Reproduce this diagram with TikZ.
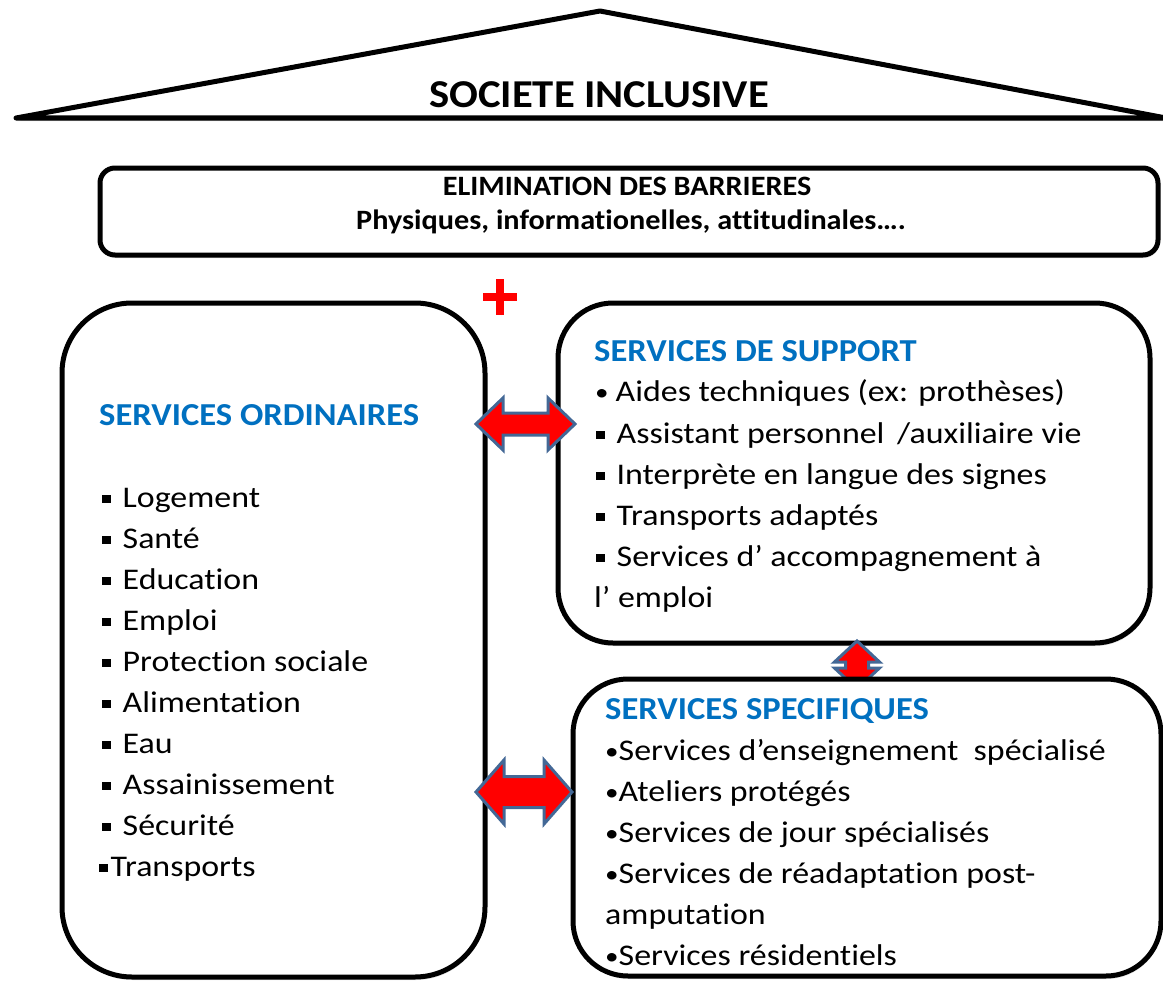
\documentclass[tikz,border=0pt]{standalone}
\usepackage{fontspec}
\setmainfont{Carlito}[FakeStretch=1.08, Ligatures=CommonOff]
\newfontfamily\bodyfont{Carlito}[FakeStretch=1.13, Ligatures=CommonOff]
\usetikzlibrary{fit,shadows,calc}
\definecolor{hblue}{RGB}{0,112,192}
\definecolor{arrowedge}{RGB}{67,104,150}
\newcommand{\sqbul}{\raisebox{4pt}{\rule{8.5pt}{8.5pt}}}
\newcommand{\dotbul}{{\fontsize{24}{24}\selectfont\raisebox{1pt}{•}}}
\tikzset{
  box/.style={draw=black, line width=5pt, fill=white, inner sep=0pt,
    drop shadow={opacity=0.25, shadow xshift=1pt, shadow yshift=-3pt}},
  body/.style={anchor=base west, inner sep=0pt, font=\bodyfont\fontsize{30}{35}\selectfont},
  head/.style={anchor=base west, inner sep=0pt, font=\fontsize{32}{40}\selectfont\bfseries, text=hblue},
  dbl/.style={fill=red, draw=arrowedge, line width=3pt, line join=miter},
}
\begin{document}
\begin{tikzpicture}[x=1pt, y=-1pt]
\useasboundingbox (0,0) rectangle (1163,982);
\fill[white] (0,0) rectangle (1163,982);

% roof
\draw[line width=5pt, line join=round, fill=white,
  drop shadow={opacity=0.25, shadow xshift=1pt, shadow yshift=-3pt}]
  (16,118) -- (600,11) -- (1166,118) -- cycle;
\node[anchor=base, inner sep=0pt, font=\fontsize{39.5}{45}\selectfont\bfseries] (title) at (599,107) {SOCIETE INCLUSIVE};

% barriers box
\node[box, rounded corners=15pt, fit={(100,168) (1158,255)}] (elim) {};
\node[anchor=base, inner sep=0pt, font=\fontsize{28}{34}\selectfont\bfseries] (elim1) at (627,195) {ELIMINATION DES BARRIERES};
\node[anchor=base, inner sep=0pt, font=\fontsize{28}{34}\selectfont\bfseries] (elim2) at (631,229) {Physiques, informationelles, attitudinales….};

% plus
\coordinate (plus) at (500,297);
\draw[red, line width=8pt, drop shadow={opacity=0.2, shadow xshift=1pt, shadow yshift=-2pt}]
  ($(plus)+(-17,0)$) -- ($(plus)+(17,0)$) ($(plus)+(0,-18)$) -- ($(plus)+(0,18)$);

% ordinary services
\node[box, rounded corners=70pt, fit={(62,303) (485,977)}] (ord) {};
\node[head] (ordh) at (99,425) {SERVICES ORDINAIRES};
\foreach \t [count=\i from 0] in {Logement, Santé, Education, Emploi, Protection sociale, Alimentation, Eau, Assainissement, Sécurité}
  \node[body] (ord\i) at (102,507+41*\i) {\sqbul\hspace{12pt}\t};
\node[body] (ord9) at (99,876) {\sqbul\hspace{3pt}Transports};

% support services
\node[box, rounded corners=55pt, fit={(558,303) (1150,643)}] (sup) {};
\node[head] (suph) at (594,361) {SERVICES DE SUPPORT};
\node[body] (sup0) at (595,401) {\dotbul\hspace{7pt}Aides techniques (ex: prothèses)};
\node[body] (sup1) at (596,443) {\sqbul\hspace{12pt}Assistant personnel \,/auxiliaire vie};
\node[body] (sup2) at (596,484) {\sqbul\hspace{12pt}Interprète en langue des signes};
\node[body] (sup3) at (596,525) {\sqbul\hspace{12pt}Transports adaptés};
\node[body] (sup4) at (596,566) {\sqbul\hspace{12pt}Services d’ accompagnement à};
\node[body] (sup5) at (594,607) {l’ emploi};

% vertical double arrow (under specific box)
\coordinate (va) at (857,665);
\draw[dbl, shift={(va)}] (0,-24) -- (22.5,-3) -- (11.5,-3) -- (11.5,3) -- (22.5,3) -- (0,24)
  -- (-22.5,3) -- (-11.5,3) -- (-11.5,-3) -- (-22.5,-3) -- cycle;

% specific services
\node[box, rounded corners=55pt, fit={(573,679) (1161,976)}] (spe) {};
\node[head] (speh) at (605,719) {SERVICES SPECIFIQUES};
\node[body] (spe0) at (605,760) {\dotbul Services d’enseignement \ spécialisé};
\node[body] (spe1) at (605,801) {\dotbul Ateliers protégés};
\node[body] (spe2) at (605,842) {\dotbul Services de jour spécialisés};
\node[body] (spe3) at (605,883) {\dotbul Services de réadaptation post-};
\node[body] (spe4) at (605,924) {amputation};
\node[body] (spe5) at (605,965) {\dotbul Services résidentiels};

% horizontal double arrows
\coordinate (ha1) at (525.5,424);
\draw[dbl, shift={(ha1)}] (-49.5,0) -- (-22.5,-26) -- (-22.5,-11) -- (22.5,-11) -- (22.5,-26) -- (49.5,0)
  -- (22.5,26) -- (22.5,11) -- (-22.5,11) -- (-22.5,26) -- cycle;
\coordinate (ha2) at (524,792);
\draw[dbl, shift={(ha2)}] (-48,0) -- (-20,-32) -- (-20,-15.5) -- (20,-15.5) -- (20,-32) -- (48,0)
  -- (20,32) -- (20,15.5) -- (-20,15.5) -- (-20,32) -- cycle;
\end{tikzpicture}
\end{document}
